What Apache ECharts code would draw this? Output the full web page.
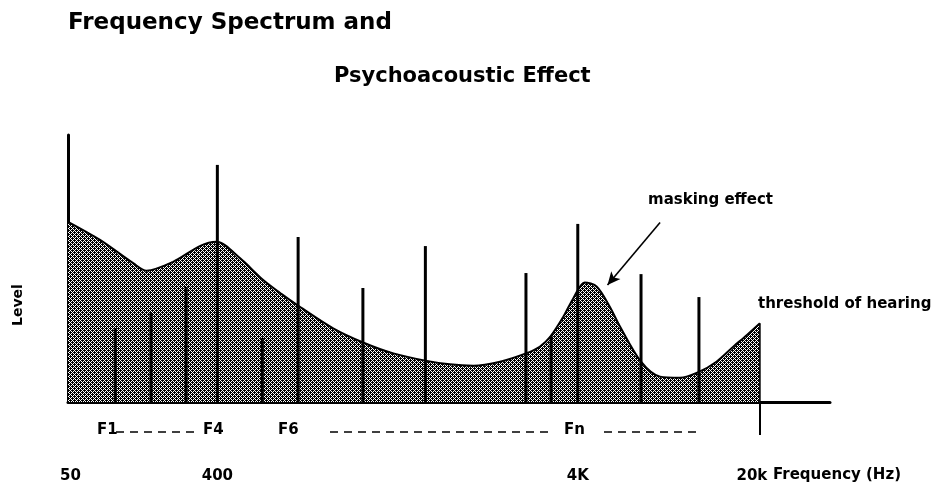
<!DOCTYPE html>
<html>
<head>
<meta charset="utf-8">
<title>Frequency Spectrum and Psychoacoustic Effect</title>
<script src="https://cdn.jsdelivr.net/npm/echarts@6/dist/echarts.min.js"></script>
<style>
  html, body { margin: 0; padding: 0; background: #fff; }
  #chart { width: 938px; height: 499px; }
</style>
</head>
<body>
<div id="chart"></div>
<script>
// Horizontal position runs 0..100 across the frequency axis (schematic, not to scale);
// level runs 0..100 up the vertical axis.

// Spectral components (vertical lines)
const componentPos   = [6.2, 10.9, 15.5, 19.6, 25.5, 30.2, 38.7, 46.9, 60.1, 63.4, 66.9, 75.2, 82.8];
const componentLevel = [27.7, 33.3, 43.1, 88.8, 24.0, 61.8, 42.7, 58.4, 48.3, 24.7, 66.7, 47.9, 39.3];

// Threshold of hearing including masking (shaded envelope)
const thresholdPos   = [0, 4.2, 8.6, 10.3, 13.8, 17.3, 19.5, 22.6, 25.5, 28.0, 30.1, 34.8, 38.8, 42.7, 46.9, 50.1, 53.2,
                        56.7, 60.1, 61.9, 63.3, 65.0, 66.3, 67.8, 69.4, 71.1, 72.4, 75.2, 77.7, 80.3, 82.8, 85.1,
                        87.3, 89.1, 90.8];
const thresholdLevel = [67.5, 60.7, 51.9, 49.2, 52.5, 58.4, 60.0, 53.8, 46.0, 40.5, 36.3, 27.6, 22.2, 18.2, 15.5, 14.1, 13.6,
                        15.1, 18.2, 20.7, 24.5, 31.9, 38.8, 44.8, 43.2, 35.7, 28.5, 15.1, 9.5, 9.1, 11.3, 15.1,
                        20.7, 25.1, 29.5];

// Frequency tick labels
const tickPos    = [0, 19.6, 66.9, 90.8];
const tickLabels = ['50', '400', '4K', '20k'];
const upperEdgePos = 90.8;

// Arrow pointing at the masking peak: [position, level] start and end
const arrowFrom = [77.7, 67.2];
const arrowTo   = [70.8, 43.8];

const FONT = '"DejaVu Sans", sans-serif';

function halftone() {
  const c = document.createElement('canvas');
  c.width = 4; c.height = 4;
  const ctx = c.getContext('2d');
  ctx.fillStyle = '#ffffff';
  ctx.fillRect(0, 0, 4, 4);
  ctx.fillStyle = '#000000';
  for (let y = 0; y < 4; y++) {
    for (let x = 0; x < 4; x++) {
      if ((x + y) % 4 !== 0 && (x - y + 4) % 4 !== 0) ctx.fillRect(x, y, 1, 1);
    }
  }
  return c;
}

const chart = echarts.init(document.getElementById('chart'), null, { renderer: 'canvas' });

function txt(text, x, y, size, extra) {
  return Object.assign({
    type: 'text', x: x, y: y, silent: true,
    style: Object.assign({
      text: text, fill: '#000', fontFamily: FONT, fontSize: size, fontWeight: 'bold',
      align: 'left', verticalAlign: 'middle'
    }, (extra && extra.style) || {})
  }, extra && extra.rotation !== undefined ? { rotation: extra.rotation } : {});
}
function dash(x1, x2, y) {
  return {
    type: 'line', silent: true,
    shape: { x1: x1, y1: y, x2: x2, y2: y },
    style: { stroke: '#000', lineWidth: 1.6, lineDash: [8, 6] }
  };
}

const option = {
  backgroundColor: '#ffffff',
  animation: false,
  grid: { left: 68, right: 108, top: 135, bottom: 97 },
  xAxis: {
    type: 'value', min: 0, max: 100,
    splitLine: { show: false },
    axisLine: { show: true, onZero: false, lineStyle: { color: '#000', width: 3 } },
    axisTick: { show: true, customValues: [upperEdgePos], length: 33, inside: false,
                lineStyle: { color: '#000', width: 2 } },
    axisLabel: {
      show: true, customValues: tickPos, margin: 67,
      color: '#000', fontFamily: FONT, fontSize: 15, fontWeight: 'bold',
      formatter: function (v) {
        const i = tickPos.indexOf(v);
        if (i < 0) return '';
        if (i === 0) return '{l|' + tickLabels[i] + '}';
        return i === tickPos.length - 1 ? '{r|' + tickLabels[i] + '}' : tickLabels[i];
      },
      rich: {
        l: { fontFamily: FONT, fontSize: 15, fontWeight: 'bold', color: '#000', padding: [0, 0, 0, 5] },
        r: { fontFamily: FONT, fontSize: 15, fontWeight: 'bold', color: '#000', padding: [0, 16, 0, 0] }
      }
    }
  },
  yAxis: {
    type: 'value', min: 0, max: 100,
    splitLine: { show: false },
    axisLine: { show: true, lineStyle: { color: '#000', width: 3 } },
    axisTick: { show: false },
    axisLabel: { show: false }
  },
  series: [
    {
      type: 'line',
      name: 'threshold',
      data: thresholdPos.map((p, i) => [p, thresholdLevel[i]]),
      smooth: 0.3,
      symbol: 'none',
      lineStyle: { color: '#000', width: 2 },
      areaStyle: { color: { image: halftone(), repeat: 'repeat' }, opacity: 1 },
      z: 2,
      markLine: {
        silent: true,
        symbol: ['none', 'arrow'],
        symbolSize: [9, 13],
        lineStyle: { color: '#000', width: 1.6, type: 'solid' },
        label: { show: false },
        data: [[{ coord: arrowFrom }, { coord: arrowTo }]]
      }
    },
    {
      type: 'line',
      name: 'edge',
      data: [[upperEdgePos, 0], [upperEdgePos, thresholdLevel[thresholdLevel.length - 1]]],
      symbol: 'none',
      lineStyle: { color: '#000', width: 1.6 },
      z: 3
    },
    {
      type: 'bar',
      name: 'components',
      data: componentPos.map((p, i) => [p, componentLevel[i]]),
      barWidth: 3,
      itemStyle: { color: '#000' },
      z: 4
    }
  ],
  graphic: [
    txt('Frequency Spectrum and', 68, 23, 23),
    txt('Psychoacoustic Effect', 334, 77, 21),
    txt('Level', 18, 305, 14, { rotation: Math.PI / 2, style: { align: 'center' } }),
    txt('masking effect', 648, 200, 15),
    txt('threshold of hearing', 758, 304, 15),
    txt('F1', 97, 430, 15),
    dash(116, 198, 432),
    txt('F4', 203, 430, 15),
    txt('F6', 278, 430, 15),
    dash(330, 552, 432),
    txt('Fn', 564, 430, 15),
    dash(604, 697, 432),
    txt('Frequency (Hz)', 773, 475, 15)
  ]
};

chart.setOption(option);
</script>
</body>
</html>
